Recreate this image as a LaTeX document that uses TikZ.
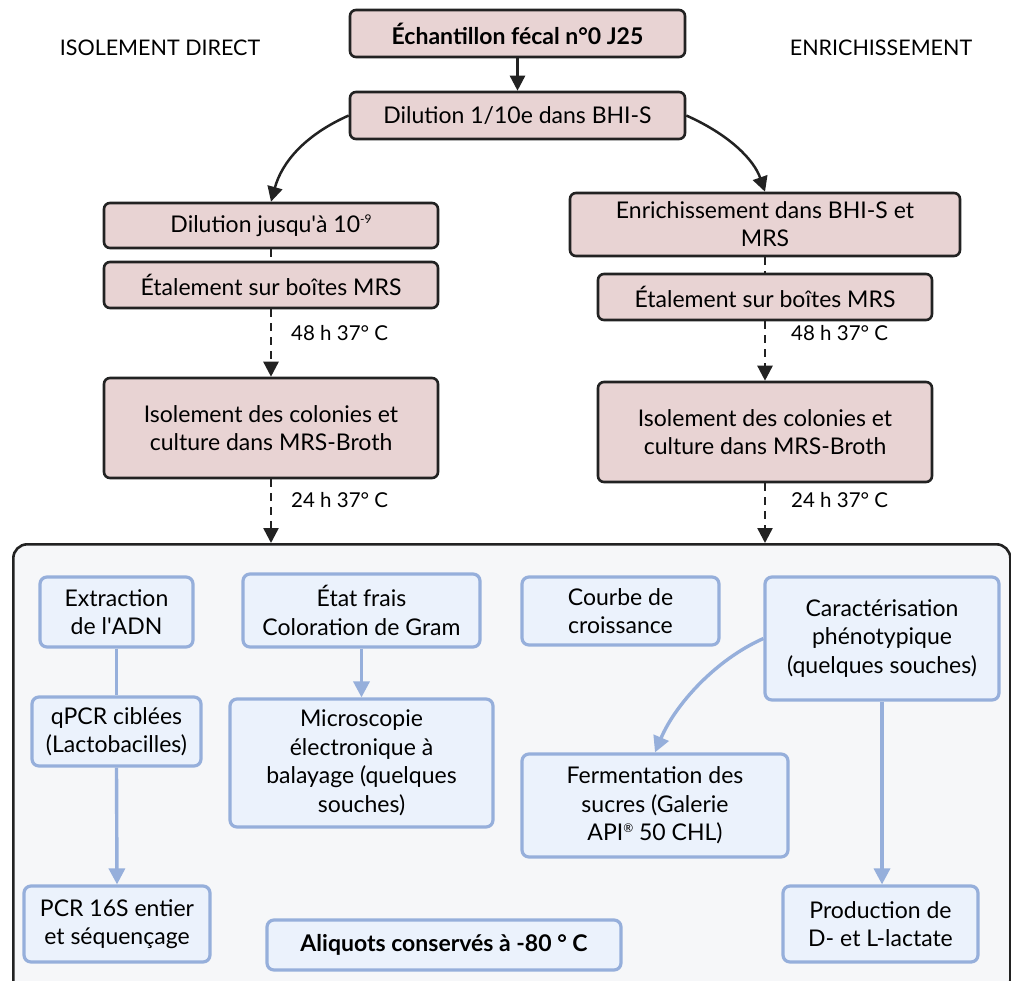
\documentclass[tikz,border=0pt]{standalone}
\usepackage{fontspec}
\setmainfont{Lato}
\usetikzlibrary{arrows.meta,calc}
\definecolor{pinkfill}{HTML}{E8D3D3}
\definecolor{darkline}{HTML}{222222}
\definecolor{bluefill}{HTML}{EBF2FC}
\definecolor{blueline}{HTML}{96AFDB}
\definecolor{contfill}{HTML}{F6F7F9}
\tikzset{
  topbox/.style={draw=darkline, fill=pinkfill, line width=2.6pt, rounded corners=6pt,
    inner sep=0pt, align=center, font=\fontsize{23}{28}\selectfont},
  botbox/.style={draw=blueline, fill=bluefill, line width=3.2pt, rounded corners=7pt,
    inner sep=0pt, align=center, font=\fontsize{23}{28.5}\selectfont},
  blkarrow/.style={draw=darkline, line width=2.5pt, -{Triangle[length=15pt,width=15pt]}},
  dasharrow/.style={blkarrow, dash pattern=on 8pt off 6pt},
  dashline/.style={draw=darkline, line width=2.5pt, dash pattern=on 8pt off 6pt},
  bluearrow/.style={draw=blueline, line width=3.4pt, -{Triangle[length=16pt,width=16pt]}},
  blueline/.style={draw=blueline, line width=3.4pt},
  steplabel/.style={anchor=west, inner sep=0pt, font=\fontsize{20.5}{24}\selectfont},
  headlabel/.style={inner sep=0pt, font=\fontsize{21.5}{26}\selectfont},
}
\newcommand{\smallsup}[1]{\raisebox{0.75ex}{\fontsize{12}{12}\selectfont #1}}
\begin{document}
\begin{tikzpicture}[x=1pt,y=-1pt]
\useasboundingbox (0,0) rectangle (1011,980);
\fill[white] (0,0) rectangle (1011,980);

% container
\node[draw=darkline, fill=contfill, line width=2.6pt, rounded corners=14pt, inner sep=0pt,
  minimum width=997pt, minimum height=450pt, anchor=north west] (cont) at (12,543) {};

% headings
\node[headlabel] (hl) at (160,48) {ISOLEMENT DIRECT};
\node[headlabel] (hr) at (881,48) {ENRICHISSEMENT};

% top boxes
\node[topbox, minimum width=335pt, minimum height=47pt, font=\fontsize{23}{28}\selectfont\bfseries] (ech) at (517.5,33.5) {Échantillon fécal n°0 J25};
\node[topbox, minimum width=335pt, minimum height=47pt] (dil) at (517.5,115.5) {Dilution 1/10e dans BHI-S};

\node[topbox, minimum width=334pt, minimum height=45pt] (dj) at (271,225.5) {Dilution jusqu\textquotesingle à 10\smallsup{-9}};
\node[topbox, minimum width=334pt, minimum height=46pt] (et1) at (271,285) {Étalement sur boîtes MRS};
\node[topbox, minimum width=334pt, minimum height=100pt] (iso1) at (271,428) {Isolement des colonies et\\culture dans MRS-Broth};

\node[topbox, minimum width=390pt, minimum height=63pt] (enr) at (765,224.5) {Enrichissement dans BHI-S et\\MRS};
\node[topbox, minimum width=334pt, minimum height=46pt] (et2) at (765,297) {Étalement sur boîtes MRS};
\node[topbox, minimum width=334pt, minimum height=100pt] (iso2) at (765,432) {Isolement des colonies et\\culture dans MRS-Broth};

% top connectors
\draw[blkarrow] (ech.south) -- (dil.north);
\draw[blkarrow] (dil.west) .. controls (305,135) and (282,162) .. (dj.north);
\draw[blkarrow] (dil.east) .. controls (730,135) and (754,160) .. (enr.north);
\draw[dashline] (dj.south) -- (et1.north);
\draw[dashline] (enr.south) -- (et2.north);
\draw[dasharrow] (et1.south) -- (iso1.north);
\draw[dasharrow] (et2.south) -- (iso2.north);
\draw[dasharrow] (iso1.south) -- (iso1.south |- cont.north);
\draw[dasharrow] (iso2.south) -- (iso2.south |- cont.north);

\node[steplabel] (l1) at (291,333) {48 h 37° C};
\node[steplabel] (l2) at (791,333) {48 h 37° C};
\node[steplabel] (l3) at (291,500) {24 h 37° C};
\node[steplabel] (l4) at (791,500) {24 h 37° C};

% bottom boxes
\node[botbox, minimum width=153pt, minimum height=70pt] (ext) at (116.5,612) {Extraction\\de l\textquotesingle ADN};
\node[botbox, minimum width=169pt, minimum height=69pt] (qpcr) at (116.5,731.5) {qPCR ciblées\\(Lactobacilles)};
\node[botbox, minimum width=186pt, minimum height=76pt] (pcr) at (117,924) {PCR 16S entier\\et séquençage};
\node[botbox, minimum width=237pt, minimum height=73pt] (etat) at (361.5,610.5) {État frais\\Coloration de Gram};
\node[botbox, minimum width=263pt, minimum height=128pt] (mic) at (361.5,763) {Microscopie\\électronique à\\balayage (quelques\\souches)};
\node[botbox, minimum width=197pt, minimum height=68pt] (cou) at (620.5,611) {Courbe de\\croissance};
\node[botbox, minimum width=234pt, minimum height=123pt] (car) at (882,638.5) {Caractérisation\\phénotypique\\(quelques souches)};
\node[botbox, minimum width=266pt, minimum height=103pt] (fer) at (655,805.5) {Fermentation des\\sucres (Galerie\\API\smallsup{®} 50 CHL)};
\node[botbox, minimum width=195pt, minimum height=76pt] (pro) at (880.5,924) {Production de\\D- et L-lactate};
\node[botbox, minimum width=354pt, minimum height=50pt, font=\fontsize{23}{28}\selectfont\bfseries] (ali) at (444,945) {Aliquots conservés à -80 ° C};

% bottom connectors
\draw[blueline] (ext.south) -- (qpcr.north);
\draw[bluearrow] (qpcr.south) -- (pcr.north);
\draw[bluearrow] (etat.south) -- (mic.north);
\draw[bluearrow] (car.west) .. controls (715,660) and (675,705) .. (fer.north);
\draw[bluearrow] (car.south) -- (car.south |- pro.north);
\end{tikzpicture}
\end{document}
